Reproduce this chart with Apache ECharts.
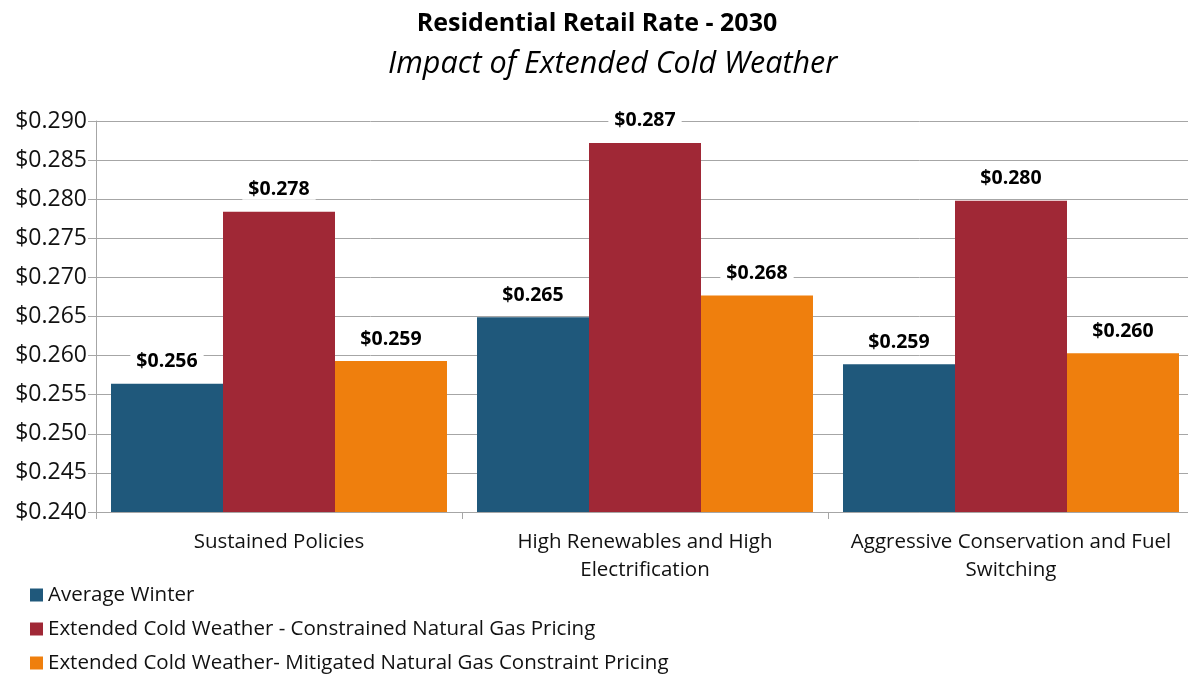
<!DOCTYPE html>
<html>
<head>
<meta charset="utf-8">
<script src="https://cdn.jsdelivr.net/npm/echarts@6/dist/echarts.min.js"></script>
<style>
  html, body {margin: 0; padding: 0; background: #fff; overflow: hidden;}
  #chart {width: 1194px; height: 677px;}
</style>
</head>
<body>
<div id="chart"></div>
<script>
const categories = ['Sustained Policies', 'High Renewables and High\nElectrification', 'Aggressive Conservation and Fuel\nSwitching'];
const seriesNames = ['Average Winter', 'Extended Cold Weather - Constrained Natural Gas Pricing', 'Extended Cold Weather- Mitigated Natural Gas Constraint Pricing'];
const averageWinter = [0.2564, 0.2649, 0.2589];
const constrained = [0.2784, 0.2872, 0.2798];
const mitigated = [0.2593, 0.2677, 0.2603];
const colors = ['#1F587B', '#A02836', '#EF7F0D'];

const font = '"Open Sans", "Noto Sans", sans-serif';
const chart = echarts.init(document.getElementById('chart'));

const makeSeries = (name, data, color) => ({
  name: name,
  type: 'bar',
  data: data,
  barGap: '0%',
  barCategoryGap: '8.2%',
  itemStyle: {color: color},
  label: {
    show: true,
    position: 'top',
    distance: 12,
    fontFamily: font,
    fontWeight: 'bold',
    fontSize: 19.5,
    color: '#000',
    backgroundColor: '#fff',
    padding: [0, 6],
    formatter: p => '$' + p.value.toFixed(3)
  }
});

chart.setOption({
  animation: false,
  title: [{
    text: 'Residential Retail Rate - 2030',
    left: 'center',
    top: 6,
    textStyle: {fontFamily: font, fontWeight: 'bold', fontSize: 25, color: '#000'}
  }, {
    text: 'Impact of Extended Cold Weather',
    left: 383,
    top: 44,
    textStyle: {fontFamily: font, fontStyle: 'italic', fontWeight: 'normal', fontSize: 30.5, color: '#000'}
  }],
  legend: {
    orient: 'vertical',
    left: 30,
    top: 584,
    height: 100,
    padding: 0,
    itemWidth: 13,
    itemHeight: 13,
    itemGap: 12,
    icon: 'rect',
    textStyle: {fontFamily: font, fontSize: 20.5, lineHeight: 22, color: '#111'},
    data: seriesNames
  },
  grid: {left: 96, top: 121, right: 0, height: 391, containLabel: false},
  xAxis: {
    type: 'category',
    data: categories,
    axisLine: {lineStyle: {color: '#a6a6a6'}},
    axisTick: {show: true, length: 7, lineStyle: {color: '#a6a6a6'}},
    axisLabel: {fontFamily: font, fontSize: 20.5, color: '#111', margin: 16, lineHeight: 28, interval: 0}
  },
  yAxis: {
    type: 'value',
    min: 0.240,
    max: 0.290,
    interval: 0.005,
    axisLine: {show: true, lineStyle: {color: '#a6a6a6'}},
    axisTick: {show: true, length: 8, lineStyle: {color: '#a6a6a6'}},
    splitLine: {lineStyle: {color: '#a6a6a6'}},
    axisLabel: {fontFamily: font, fontSize: 23, color: '#111', margin: 9, formatter: v => '$' + v.toFixed(3)}
  },
  series: [
    makeSeries(seriesNames[0], averageWinter, colors[0]),
    makeSeries(seriesNames[1], constrained, colors[1]),
    makeSeries(seriesNames[2], mitigated, colors[2])
  ]
});
</script>
</body>
</html>
